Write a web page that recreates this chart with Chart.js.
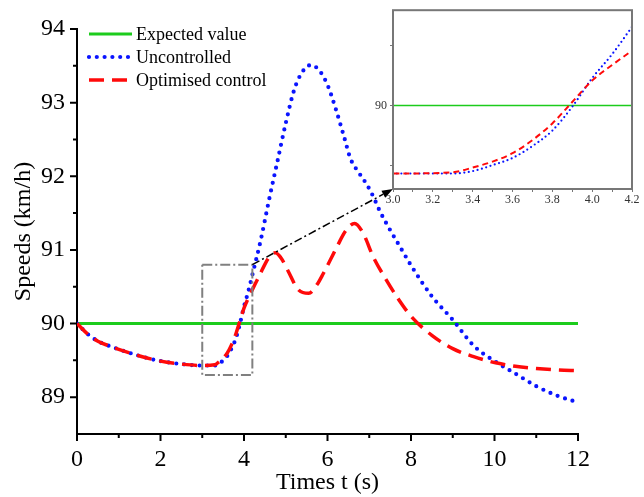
<!DOCTYPE html>
<html>
<head>
<meta charset="utf-8">
<script src="https://cdn.jsdelivr.net/npm/chart.js@4.4.1/dist/chart.umd.min.js"></script>
<style>
  body { margin: 0; background: #fff; }
  #wrap { position: relative; width: 644px; height: 497px; }
  #main { position: absolute; left: 0; top: 0; }
  #inset { position: absolute; left: 350px; top: 0; }
</style>
</head>
<body>
<div id="wrap">
  <canvas id="main" width="644" height="497"></canvas>
  <canvas id="inset" width="294" height="215"></canvas>
</div>
<script>
// speeds (km/h) against time (s)
const tUncontrolled = [0, 0.25, 0.5, 0.75, 1, 1.5, 2, 2.5, 3, 3.3, 3.4, 3.5, 3.6, 3.7, 3.8, 3.9, 4, 4.1, 4.2, 4.4, 4.6, 4.8, 5, 5.2, 5.4, 5.6, 5.8, 6, 6.2, 6.4, 6.55, 6.75, 6.95, 7.1, 7.25, 7.5, 7.75, 8, 8.5, 9, 9.5, 10, 10.5, 11, 11.5, 12];
const vUncontrolled = [90, 89.86, 89.76, 89.7, 89.65, 89.56, 89.49, 89.45, 89.43, 89.43, 89.45, 89.5, 89.56, 89.66, 89.79, 89.99, 90.23, 90.43, 90.66, 91.13, 91.68, 92.2, 92.72, 93.17, 93.42, 93.51, 93.44, 93.24, 92.91, 92.53, 92.24, 92.05, 91.88, 91.72, 91.53, 91.27, 91.03, 90.79, 90.37, 90.05, 89.7, 89.49, 89.32, 89.15, 89.02, 88.93];

const tOptimised = [0, 0.25, 0.5, 0.75, 1, 1.5, 2, 2.5, 3, 3.3, 3.4, 3.5, 3.6, 3.7, 3.8, 3.9, 4, 4.1, 4.2, 4.35, 4.6, 4.75, 4.9, 5.05, 5.3, 5.55, 5.75, 5.9, 6.1, 6.25, 6.45, 6.65, 6.85, 7.1, 7.4, 7.7, 8, 8.5, 9, 9.5, 10, 10.5, 11, 11.5, 12];
const vOptimised = [90, 89.86, 89.76, 89.7, 89.65, 89.56, 89.49, 89.45, 89.43, 89.44, 89.48, 89.53, 89.6, 89.71, 89.85, 90.03, 90.21, 90.34, 90.46, 90.63, 90.9, 90.96, 90.88, 90.72, 90.46, 90.41, 90.53, 90.68, 90.9, 91.07, 91.27, 91.36, 91.23, 90.9, 90.6, 90.33, 90.1, 89.84, 89.66, 89.55, 89.47, 89.42, 89.39, 89.37, 89.36];

const tExpected = [0, 12];
const vExpected = [90, 90];

const seriesLabels = ["Expected value", "Uncontrolled", "Optimised control"];

const xTicks = [0, 2, 4, 6, 8, 10, 12];
const yTicks = [89, 90, 91, 92, 93, 94];
const insetYTicks = [89.5, 90, 90.5];
// zoomed window shown in the inset: x from, x to, y from, y to
const zoomBox = [3.0, 4.2, 89.3, 90.8];

const FONT = "'Liberation Serif', 'Times New Roman', serif";
const GREEN = "#1ccc1c", BLUE = "#0a14ff", RED = "#ff0a0a";

const pts = (ts, vs) => ts.map((t, i) => ({ x: t, y: vs[i] }));

// ---------- inset ----------
const insetFrame = {
  id: "insetFrame",
  beforeDraw(chart) {
    const { ctx, chartArea: a } = chart;
    ctx.save();
    ctx.fillStyle = "#fff";
    ctx.fillRect(a.left, a.top, a.width, a.height);
    ctx.restore();
  },
  afterDraw(chart) {
    const { ctx, chartArea: a } = chart;
    ctx.save();
    ctx.strokeStyle = "#777";
    ctx.lineWidth = 2;
    ctx.strokeRect(a.left, a.top, a.width, a.height);
    ctx.restore();
  }
};

const inset = new Chart(document.getElementById("inset"), {
  type: "line",
  data: {
    datasets: [
      { data: pts(tExpected, vExpected), borderColor: GREEN, borderWidth: 1.5, pointRadius: 0, order: 3 },
      { data: pts(tUncontrolled, vUncontrolled), borderColor: BLUE, borderWidth: 2.2, borderDash: [0, 4.5],
        borderCapStyle: "round", pointRadius: 0, cubicInterpolationMode: "monotone", order: 2 },
      { data: pts(tOptimised, vOptimised), borderColor: RED, borderWidth: 2, borderDash: [6, 4],
        pointRadius: 0, cubicInterpolationMode: "monotone", order: 1 }
    ]
  },
  options: {
    responsive: false,
    animation: false,
    events: [],
    layout: { padding: { top: 10, right: 12, left: 0, bottom: 0 } },
    plugins: { legend: { display: false }, tooltip: { enabled: false } },
    scales: {
      x: {
        type: "linear", min: zoomBox[0], max: zoomBox[1],
        afterFit: s => { s.height = 26; },
        afterBuildTicks: s => {
          const t = [];
          for (let i = 0; i <= 12; i++) t.push({ value: 3 + i * 0.1 });
          s.ticks = t;
        },
        grid: { display: true, drawOnChartArea: false, tickLength: 3, color: "#777" },
        border: { display: false },
        ticks: {
          color: "#333", padding: 1, maxRotation: 0, autoSkip: false,
          font: { family: FONT, size: 12 },
          callback: v => (Math.round(v * 10) % 2 === 0 ? v.toFixed(1) : "")
        }
      },
      y: {
        min: zoomBox[2], max: zoomBox[3],
        afterFit: s => { s.width = 43; },
        afterBuildTicks: s => { s.ticks = insetYTicks.map(v => ({ value: v })); },
        grid: { display: true, drawOnChartArea: false, tickLength: 3, color: "#777" },
        border: { display: false },
        ticks: {
          color: "#333", padding: 3,
          font: { family: FONT, size: 12 },
          callback: v => (v === 90 ? "90" : "")
        }
      }
    }
  },
  plugins: [insetFrame]
});

// ---------- main chart ----------
const axisTicks = {
  id: "axisTicks",
  afterDraw(chart) {
    const { ctx, chartArea: a, scales: { x, y } } = chart;
    ctx.save();
    ctx.strokeStyle = "#000";
    ctx.lineWidth = 2;
    ctx.beginPath();
    for (let v = 0; v <= 12; v += 1) {
      const px = x.getPixelForValue(v);
      ctx.moveTo(px, a.bottom);
      ctx.lineTo(px, a.bottom + (v % 2 === 0 ? 7 : 4));
    }
    for (let v = 89; v <= 94; v += 0.5) {
      const py = y.getPixelForValue(v);
      ctx.moveTo(a.left, py);
      ctx.lineTo(a.left - (v % 1 === 0 ? 7 : 4), py);
    }
    ctx.stroke();
    ctx.restore();
  }
};

const zoomMarker = {
  id: "zoomMarker",
  afterDatasetsDraw(chart) {
    const { ctx, scales: { x, y } } = chart;
    const x1 = x.getPixelForValue(zoomBox[0]), x2 = x.getPixelForValue(zoomBox[1]);
    const y1 = y.getPixelForValue(zoomBox[2]), y2 = y.getPixelForValue(zoomBox[3]);
    ctx.save();
    ctx.strokeStyle = "#808080";
    ctx.lineWidth = 2;
    ctx.setLineDash([10, 3, 2, 3]);
    ctx.strokeRect(x1, y2, x2 - x1, y1 - y2);

    // arrow to the inset's lower left corner
    const ic = inset.canvas, ia = inset.chartArea;
    const ex = ic.offsetLeft + ia.left, ey = ic.offsetTop + ia.bottom;
    const ang = Math.atan2(ey - y2, ex - x2);
    const hl = 11, hw = 4;
    const bx = ex - hl * Math.cos(ang), by = ey - hl * Math.sin(ang);
    ctx.strokeStyle = "#000";
    ctx.lineWidth = 1.5;
    ctx.setLineDash([8, 3, 2, 3]);
    ctx.beginPath();
    ctx.moveTo(x2, y2);
    ctx.lineTo(bx, by);
    ctx.stroke();
    ctx.setLineDash([]);
    ctx.fillStyle = "#000";
    ctx.beginPath();
    ctx.moveTo(ex, ey);
    ctx.lineTo(bx + hw * Math.sin(ang), by - hw * Math.cos(ang));
    ctx.lineTo(bx - hw * Math.sin(ang), by + hw * Math.cos(ang));
    ctx.closePath();
    ctx.fill();
    ctx.restore();
  }
};

const legendBox = {
  id: "legendBox",
  afterDraw(chart) {
    const { ctx, chartArea: a } = chart;
    ctx.save();
    ctx.font = "18px " + FONT;
    ctx.textBaseline = "middle";
    chart.data.datasets.forEach((ds, i) => {
      const yy = a.top + 5 + i * 23;
      ctx.strokeStyle = ds.borderColor;
      ctx.lineWidth = ds.borderWidth;
      ctx.lineCap = ds.borderCapStyle || "butt";
      ctx.setLineDash(ds.borderDash || []);
      ctx.beginPath();
      ctx.moveTo(a.left + 12, yy);
      ctx.lineTo(a.left + 55, yy);
      ctx.stroke();
      ctx.setLineDash([]);
      ctx.fillStyle = "#000";
      ctx.fillText(ds.label, a.left + 59, yy + 1);
    });
    ctx.restore();
  }
};

new Chart(document.getElementById("main"), {
  type: "line",
  data: {
    datasets: [
      { label: seriesLabels[0], data: pts(tExpected, vExpected), borderColor: GREEN, borderWidth: 3,
        pointRadius: 0, order: 3 },
      { label: seriesLabels[1], data: pts(tUncontrolled, vUncontrolled), borderColor: BLUE, borderWidth: 4.2,
        borderDash: [0, 7.8], borderCapStyle: "round", pointRadius: 0, cubicInterpolationMode: "monotone", order: 2 },
      { label: seriesLabels[2], data: pts(tOptimised, vOptimised), borderColor: RED, borderWidth: 3.5,
        borderDash: [15, 8], pointRadius: 0, cubicInterpolationMode: "monotone", order: 1 }
    ]
  },
  options: {
    responsive: false,
    animation: false,
    events: [],
    layout: { padding: { top: 29, right: 66, left: 0, bottom: 0 } },
    plugins: { legend: { display: false }, tooltip: { enabled: false } },
    scales: {
      x: {
        type: "linear", min: 0, max: 12,
        afterBuildTicks: s => { s.ticks = xTicks.map(v => ({ value: v })); },
        afterFit: s => { s.height = 63; },
        grid: { display: false },
        border: { display: true, color: "#000", width: 2 },
        ticks: { color: "#000", padding: 3, maxRotation: 0, font: { family: FONT, size: 24 } },
        title: { display: true, text: "Times t (s)", color: "#000", font: { family: FONT, size: 24 },
                 padding: { top: 0, bottom: 0 } }
      },
      y: {
        min: 88.5, max: 94,
        afterBuildTicks: s => { s.ticks = yTicks.map(v => ({ value: v })); },
        afterFit: s => { s.width = 77; },
        grid: { display: false },
        border: { display: true, color: "#000", width: 2 },
        ticks: { color: "#000", padding: 4, font: { family: FONT, size: 24 } },
        title: { display: true, text: "Speeds (km/h)", color: "#000", font: { family: FONT, size: 24 },
                 padding: { top: 9, bottom: 0 } }
      }
    }
  },
  plugins: [axisTicks, zoomMarker, legendBox]
});
</script>
</body>
</html>
